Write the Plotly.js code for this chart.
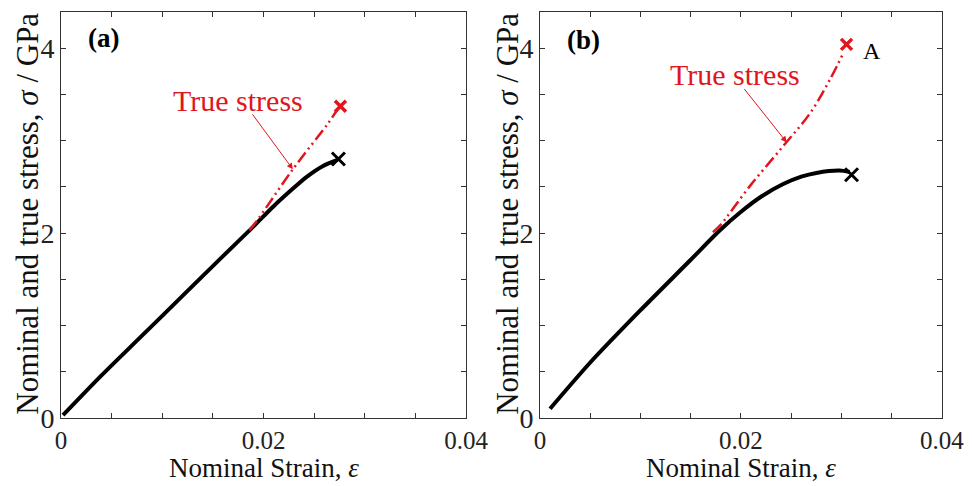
<!DOCTYPE html>
<html>
<head>
<meta charset="utf-8">
<script src="https://cdn.plot.ly/plotly-3.0.1.min.js"></script>
<style>html,body{margin:0;padding:0;background:#fff;}#chart{width:973px;height:486px;}</style>
</head>
<body>
<div id="chart"></div>
<script>
// Panel (a)
const nomA_x = [0.0002, 0.004, 0.008, 0.012, 0.016, 0.019, 0.021, 0.0228, 0.0243, 0.0258, 0.0273];
const nomA_y = [0.03, 0.46, 0.89, 1.32, 1.75, 2.07, 2.29, 2.47, 2.61, 2.72, 2.79];
const trueA_x = [0.0186, 0.0192, 0.0229, 0.0264, 0.0275];
const trueA_y = [2.03, 2.11, 2.69, 3.19, 3.37];
const failA_nom = [0.0274, 2.80];
const failA_true = [0.0276, 3.37];
// Panel (b)
const nomB_x = [0.0010, 0.0050, 0.00995, 0.0149, 0.0179, 0.0200, 0.0221, 0.0242, 0.0260, 0.0275, 0.0298, 0.0308];
const nomB_y = [0.10, 0.60, 1.16, 1.70, 2.03, 2.23, 2.40, 2.53, 2.61, 2.65, 2.675, 2.66];
const trueB_x = [0.0172, 0.0179, 0.0209, 0.0242, 0.0269, 0.0289, 0.0302];
const trueB_y = [2.01, 2.08, 2.51, 2.94, 3.30, 3.67, 3.95];
const failB_nom = [0.0310, 2.63];
const failB_true = [0.0305, 4.04];
// Ticks
const xTickVals = [0, 0.005, 0.01, 0.015, 0.02, 0.025, 0.03, 0.035, 0.04];
const xTickText = ['0', '', '', '', '0.02', '', '', '', '0.04'];
const yTickVals = [0, 0.5, 1, 1.5, 2, 2.5, 3, 3.5, 4];
const yTickText = ['0', '', '', '', '2', '', '', '', '4'];
const yTitle = 'Nominal and true stress, <i>σ</i> / GPa';
const xTitle = 'Nominal Strain, <i>ε</i>';

const FONT = '"Liberation Serif", "Times New Roman", Times, serif';
const RED = '#e0161e';
const dashPat = '12px,4px,2px,4px,2px,4px';

const traces = [
  {x: nomA_x, y: nomA_y, xaxis: 'x', yaxis: 'y', mode: 'lines', line: {color: '#000', width: 4, shape: 'spline', smoothing: 0.8}, name: 'Nominal (a)'},
  {x: trueA_x, y: trueA_y, xaxis: 'x', yaxis: 'y', mode: 'lines', line: {color: RED, width: 2.5, dash: dashPat, shape: 'spline'}, name: 'True (a)'},
  {x: [failA_nom[0]], y: [failA_nom[1]], xaxis: 'x', yaxis: 'y', mode: 'markers', marker: {symbol: 'x-thin', size: 13, line: {color: '#000', width: 3}}},
  {x: [failA_true[0]], y: [failA_true[1]], xaxis: 'x', yaxis: 'y', mode: 'markers', marker: {symbol: 'x-thin', size: 11, line: {color: RED, width: 3.5}}},
  {x: nomB_x, y: nomB_y, xaxis: 'x2', yaxis: 'y2', mode: 'lines', line: {color: '#000', width: 4, shape: 'spline', smoothing: 0.8}, name: 'Nominal (b)'},
  {x: trueB_x, y: trueB_y, xaxis: 'x2', yaxis: 'y2', mode: 'lines', line: {color: RED, width: 2.5, dash: dashPat, shape: 'spline'}, name: 'True (b)'},
  {x: [failB_nom[0]], y: [failB_nom[1]], xaxis: 'x2', yaxis: 'y2', mode: 'markers', marker: {symbol: 'x-thin', size: 13, line: {color: '#000', width: 3}}},
  {x: [failB_true[0]], y: [failB_true[1]], xaxis: 'x2', yaxis: 'y2', mode: 'markers', marker: {symbol: 'x-thin', size: 11, line: {color: RED, width: 3.5}}}
];

function xax(domain) {
  return {
    domain: domain, range: [0, 0.04], tickmode: 'array', tickvals: xTickVals, ticktext: xTickText,
    ticks: 'inside', ticklen: 5, tickcolor: '#333', showline: true, linecolor: '#333', linewidth: 1, mirror: 'ticks',
    showgrid: false, zeroline: false, tickfont: {family: FONT, size: 25, color: '#222'}
  };
}
function yax(anchor) {
  return {
    anchor: anchor, domain: [0, 1], range: [0, 4.39], tickmode: 'array', tickvals: yTickVals, ticktext: yTickText,
    ticks: 'inside', ticklen: 5, tickcolor: '#333', showline: true, linecolor: '#333', linewidth: 1, mirror: 'ticks',
    showgrid: false, zeroline: false, tickfont: {family: FONT, size: 28, color: '#222'}
  };
}

const layout = {
  width: 973, height: 486, showlegend: false,
  paper_bgcolor: '#fff', plot_bgcolor: '#fff',
  margin: {l: 61, r: 31, t: 12, b: 67.5},
  xaxis: Object.assign(xax([0, 0.4597]), {anchor: 'y'}),
  yaxis: yax('x'),
  xaxis2: Object.assign(xax([0.5437, 1]), {anchor: 'y2'}),
  yaxis2: yax('x2'),
  annotations: [
    {xref: 'paper', yref: 'paper', x: 0.2299, y: -0.166, text: xTitle, showarrow: false, xanchor: 'center', yanchor: 'bottom', font: {family: FONT, size: 27, color: '#111'}},
    {xref: 'paper', yref: 'paper', x: 0.7718, y: -0.166, text: xTitle, showarrow: false, xanchor: 'center', yanchor: 'bottom', font: {family: FONT, size: 27, color: '#111'}},
    {xref: 'paper', yref: 'paper', x: -0.0375, y: 0.503, text: yTitle, textangle: -90, showarrow: false, xanchor: 'center', yanchor: 'middle', font: {family: FONT, size: 31, color: '#111'}},
    {xref: 'paper', yref: 'paper', x: 0.5074, y: 0.503, text: yTitle, textangle: -90, showarrow: false, xanchor: 'center', yanchor: 'middle', font: {family: FONT, size: 31, color: '#111'}},
    {xref: 'paper', yref: 'paper', x: 0.048, y: 0.935, text: '<b>(a)</b>', showarrow: false, xanchor: 'center', yanchor: 'middle', font: {family: FONT, size: 27, color: '#000'}},
    {xref: 'paper', yref: 'paper', x: 0.593, y: 0.93, text: '<b>(b)</b>', showarrow: false, xanchor: 'center', yanchor: 'middle', font: {family: FONT, size: 27, color: '#000'}},
    {xref: 'x', yref: 'y', x: 0.0175, y: 3.43, text: 'True stress', showarrow: false, xanchor: 'center', yanchor: 'middle', font: {family: FONT, size: 30, color: RED}},
    {xref: 'x2', yref: 'y2', x: 0.0194, y: 3.71, text: 'True stress', showarrow: false, xanchor: 'center', yanchor: 'middle', font: {family: FONT, size: 30, color: RED}},
    {xref: 'x', yref: 'y', axref: 'x', ayref: 'y', x: 0.0229, y: 2.69, ax: 0.0188, ay: 3.30, text: '', showarrow: true, arrowhead: 2, arrowsize: 1.2, arrowwidth: 1, arrowcolor: RED, standoff: 0},
    {xref: 'x2', yref: 'y2', axref: 'x2', ayref: 'y2', x: 0.02455, y: 2.98, ax: 0.0202, ay: 3.575, text: '', showarrow: true, arrowhead: 2, arrowsize: 1.2, arrowwidth: 1, arrowcolor: RED, standoff: 0},
    {xref: 'x2', yref: 'y2', x: 0.0330, y: 3.97, text: 'A', showarrow: false, xanchor: 'center', yanchor: 'middle', font: {family: FONT, size: 24, color: '#000'}}
  ]
};

Plotly.newPlot('chart', traces, layout, {displayModeBar: false, staticPlot: true});
</script>
</body>
</html>
